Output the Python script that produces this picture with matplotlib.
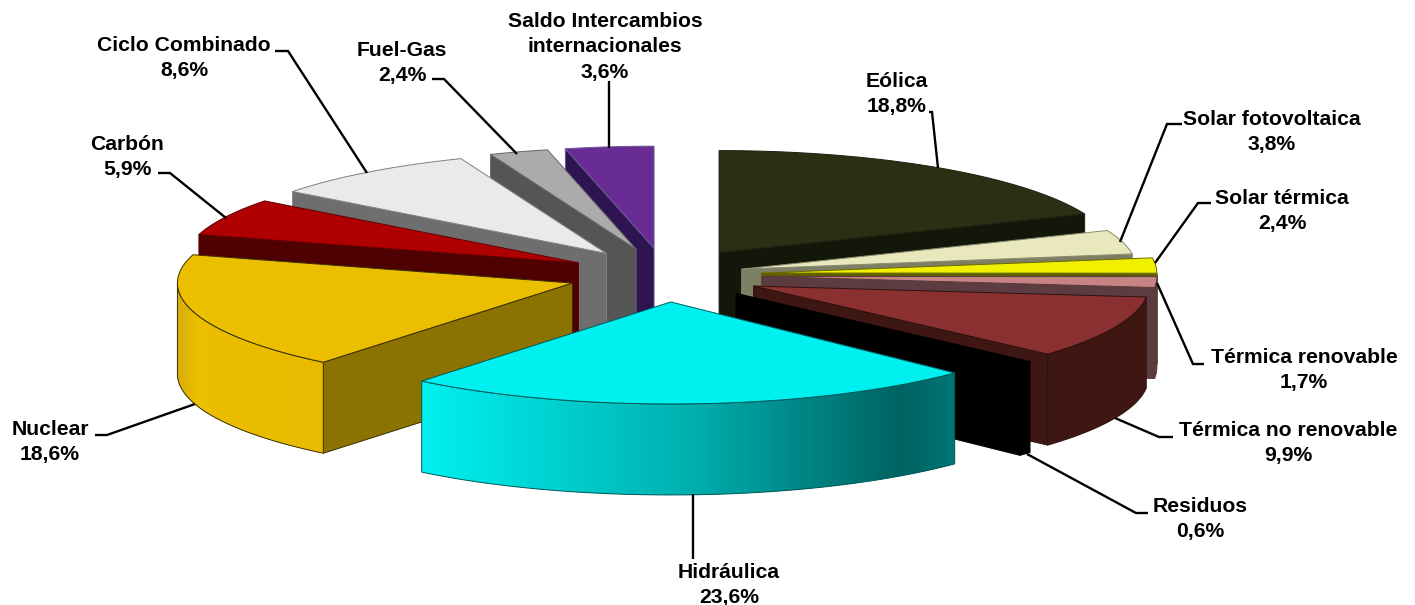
import numpy as np
import matplotlib
matplotlib.use("Agg")
import matplotlib.pyplot as plt
from matplotlib.collections import PolyCollection
from matplotlib.colors import LinearSegmentedColormap
from matplotlib.patches import Polygon

# ---- data (clockwise from twelve o'clock) ----
categories = ["Eólica", "Solar fotovoltaica", "Solar térmica", "Térmica renovable",
              "Térmica no renovable", "Residuos", "Hidráulica", "Nuclear", "Carbón",
              "Ciclo Combinado", "Fuel-Gas", "Saldo Intercambios\ninternacionales"]
shares = [18.8, 3.8, 2.4, 1.7, 9.9, 0.6, 23.6, 18.6, 5.9, 8.6, 2.4, 3.6]

# ---- styles ----
top_colors = ["#2A3014", "#E8E8BC", "#F0F000", "#C88484", "#8A3030", "#000000",
              "#00F0F0", "#EBBE00", "#AE0000", "#EAEAEA", "#ABABAB", "#682C94"]
side_colors = ["#12170A", "#7E7E64", "#5E5E00", "#5C3C40", "#3E1612", "#000000",
               "#006464", "#8C7200", "#4F0000", "#6E6E6E", "#555555", "#2E1450"]
edge_colors = ["#1C2010", "#8A8A70", "#6A6A00", "#5A3A3A", "#2E1210", "#000000",
               "#005A5A", "#3A3000", "#600000", "#808080", "#666666", "#6A5A90"]
arc_gradients = {6: [(0.0, "#00F0F0"), (0.5, "#00B0B0"), (0.9, "#006262"), (1.0, "#007474")],
                 7: [(0.0, "#D6A800"), (0.12, "#EBBE00"), (1.0, "#E8BA00")]}
explode = [1, 0.82, 1, 1, 1, 1, 1, 1, 1, 1, 1, 1]
draw_order = [0, 11, 10, 9, 8, 1, 2, 3, 4, 5, 7, 6]

# ---- projection, in pixels ----
CX, CY = 665, 275
RX, RY = 395, 102
EX, EY = 97, 27
DEPTH = 91

# ---- label layout, in pixels: text centre, leader polyline ----
label_xy = [(897, 94), (1272, 132), (1282, 211), (1304, 370), (1288, 443), (1200, 519),
            (729, 585), (50, 442), (127, 157), (184, 58), (402, 63), (605, 47)]
leaders = [
    [(929, 112), (932, 112), (938, 168)],
    [(1182, 124), (1167, 124), (1120, 242)],
    [(1211, 203), (1198, 203), (1155, 263)],
    [(1204, 364), (1193, 364), (1157, 283)],
    [(1173, 437), (1159, 437), (1115, 418)],
    [(1148, 513), (1136, 513), (1027, 454)],
    [(693, 494), (693, 559)],
    [(95, 435), (107, 435), (195, 404)],
    [(158, 173), (170, 173), (226, 218)],
    [(275, 51), (288, 51), (367, 173)],
    [(432, 79), (444, 79), (517, 154)],
    [(608.5, 81), (608.5, 148)],
]

fig = plt.figure(figsize=(14.15, 6.05), dpi=100, facecolor="white")
ax = fig.add_axes([0, 0, 1, 1])
ax.set_xlim(0, 1415)
ax.set_ylim(605, 0)
ax.axis("off")

total = sum(shares)
bounds = np.concatenate([[0], np.cumsum(shares)]) / total * 2 * np.pi


def rim(tip, angle):
    return tip[0] + RX * np.sin(angle), tip[1] - RY * np.cos(angle)


z = 1
for i in draw_order:
    a, b = bounds[i], bounds[i + 1]
    mid = (a + b) / 2
    tip = (CX + explode[i] * EX * np.sin(mid), CY - explode[i] * EY * np.cos(mid))
    edge = edge_colors[i]

    # radial faces turned towards the viewer
    for ang, normal in ((a, a - np.pi / 2), (b, b + np.pi / 2)):
        if np.cos(normal) < -1e-6:
            p = rim(tip, ang)
            quad = [tip, p, (p[0], p[1] + DEPTH), (tip[0], tip[1] + DEPTH)]
            ax.add_patch(Polygon(quad, closed=True, fc=side_colors[i], ec=edge, lw=0.7, zorder=z))
            z += 1

    # outer rim, front half only
    lo, hi = max(a, np.pi / 2), min(b, 3 * np.pi / 2)
    if hi > lo:
        th = np.linspace(lo, hi, 121)
        xs = tip[0] + RX * np.sin(th)
        ys = tip[1] - RY * np.cos(th)
        outline = list(zip(xs, ys)) + list(zip(xs[::-1], ys[::-1] + DEPTH))
        if i in arc_gradients:
            cmap = LinearSegmentedColormap.from_list("g", arc_gradients[i])
            order = np.argsort(xs)
            xo, yo = xs[order], ys[order]
            fr = (xo - xo[0]) / (xo[-1] - xo[0])
            # each strip reaches over its neighbour; the next one paints over the overlap
            quads, cols = [], []
            for k in range(len(xo) - 1):
                e = min(k + 2, len(xo) - 1)
                quads.append([(xo[k], yo[k]), (xo[e], yo[e]),
                              (xo[e], yo[e] + DEPTH), (xo[k], yo[k] + DEPTH)])
                cols.append(cmap((fr[k] + fr[k + 1]) / 2))
            ax.add_collection(PolyCollection(quads, facecolors=cols, edgecolors="none",
                                             linewidths=0, zorder=z))
            z += 1
            ax.add_patch(Polygon(outline, closed=True, fc="none", ec=edge, lw=0.7, zorder=z))
        else:
            ax.add_patch(Polygon(outline, closed=True, fc=side_colors[i], ec=edge, lw=0.7, zorder=z))
        z += 1

    # top face
    th = np.linspace(a, b, 100)
    top = [tip] + [rim(tip, t) for t in th]
    ax.add_patch(Polygon(top, closed=True, fc=top_colors[i], ec=edge, lw=0.7, zorder=z))
    z += 1

for pts in leaders:
    xs, ys = zip(*pts)
    ax.plot(xs, ys, color="black", lw=1.7, solid_capstyle="butt", solid_joinstyle="miter", zorder=z)
z += 1

for name, share, (x, y) in zip(categories, shares, label_xy):
    txt = f"{name}\n{share:.1f}%".replace(".", ",")
    ax.text(x, y, txt, ha="center", va="center", family="Liberation Sans", weight="bold",
            fontsize=15.2, linespacing=1.45, color="black", zorder=z)

fig.savefig("out.png", dpi=100, facecolor="white")
